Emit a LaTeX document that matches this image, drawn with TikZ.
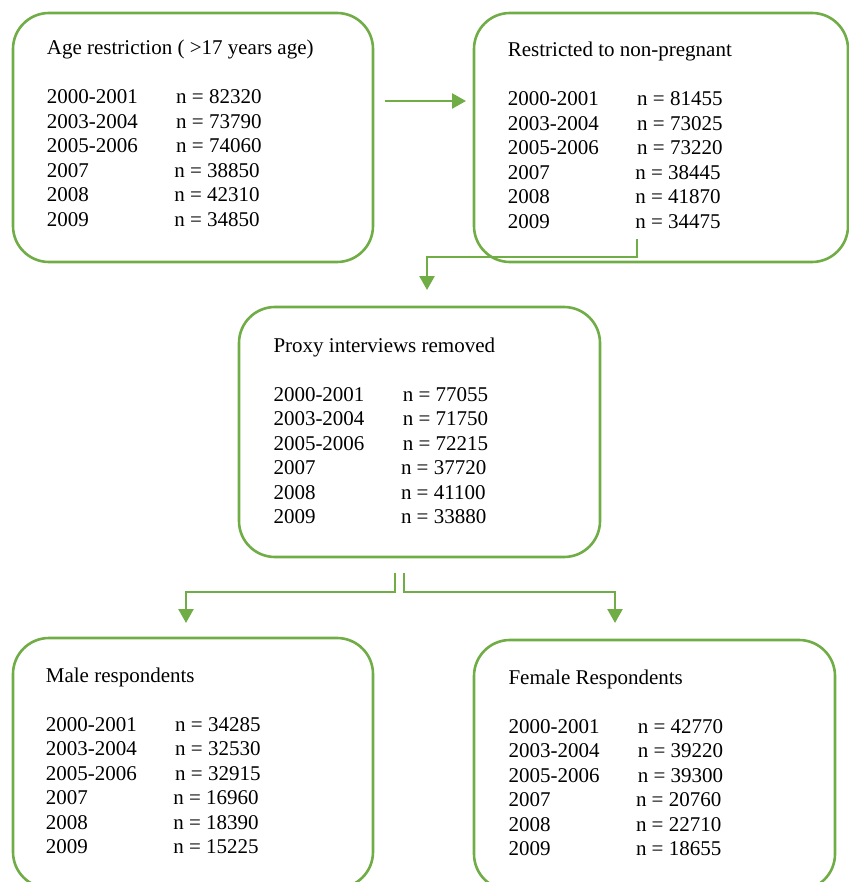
\documentclass[tikz,border=0pt]{standalone}
\usepackage{fontspec}
\setmainfont{Liberation Serif}
\usetikzlibrary{arrows.meta}

\definecolor{leaf}{RGB}{112,173,71}

% one line of a count table: year, then n
\newcommand{\yrow}[3][129.3pt]{\makebox[#1][l]{#2}n = #3}

\begin{document}
\begin{tikzpicture}[
    x=1pt, y=1pt,
    stage/.style={draw=leaf, line width=2.6pt, rounded corners=36pt,
                  inner sep=0pt, outer sep=0pt, anchor=north west},
    counts/.style={anchor=base west, inner sep=0pt,
                   font=\fontsize{21}{24.5}\selectfont},
    flow/.style={draw=leaf, line width=2.6pt,
                 -{Triangle[length=14pt, width=15pt]}}
]
    \useasboundingbox (0,0) rectangle (848,-882);

    \node[stage, minimum width=360pt, minimum height=249pt] (age)    at (13,-13)   {};
    \node[stage, minimum width=374pt, minimum height=249pt] (preg)   at (474,-13)  {};
    \node[stage, minimum width=361pt, minimum height=250pt] (proxy)  at (239,-307) {};
    \node[stage, minimum width=360pt, minimum height=250pt] (male)   at (13,-638)  {};
    \node[stage, minimum width=361pt, minimum height=250pt] (female) at (474,-640)  {};

    \node[counts] (agetxt) at (46.7,-55) {\begin{tabular}[t]{@{}l@{}}
        Age restriction ( >17 years age)\\ \\
        \yrow{2000-2001}{82320}\\
        \yrow{2003-2004}{73790}\\
        \yrow{2005-2006}{74060}\\
        \yrow[127.5pt]{2007}{38850}\\
        \yrow[127.5pt]{2008}{42310}\\
        \yrow[127.5pt]{2009}{34850}
    \end{tabular}};

    \node[counts] (pregtxt) at (507.7,-57) {\begin{tabular}[t]{@{}l@{}}
        Restricted to non-pregnant\\ \\
        \yrow{2000-2001}{81455}\\
        \yrow{2003-2004}{73025}\\
        \yrow{2005-2006}{73220}\\
        \yrow[127.5pt]{2007}{38445}\\
        \yrow[127.5pt]{2008}{41870}\\
        \yrow[127.5pt]{2009}{34475}
    \end{tabular}};

    \node[counts] (proxytxt) at (273.3,-352) {\begin{tabular}[t]{@{}l@{}}
        Proxy interviews removed\\ \\
        \yrow{2000-2001}{77055}\\
        \yrow{2003-2004}{71750}\\
        \yrow{2005-2006}{72215}\\
        \yrow[127.5pt]{2007}{37720}\\
        \yrow[127.5pt]{2008}{41100}\\
        \yrow[127.5pt]{2009}{33880}
    \end{tabular}};

    \node[counts] (maletxt) at (45.7,-682) {\begin{tabular}[t]{@{}l@{}}
        Male respondents\\ \\
        \yrow{2000-2001}{34285}\\
        \yrow{2003-2004}{32530}\\
        \yrow{2005-2006}{32915}\\
        \yrow[127.5pt]{2007}{16960}\\
        \yrow[127.5pt]{2008}{18390}\\
        \yrow[127.5pt]{2009}{15225}
    \end{tabular}};

    \node[counts] (femaletxt) at (508.3,-684) {\begin{tabular}[t]{@{}l@{}}
        Female Respondents\\ \\
        \yrow{2000-2001}{42770}\\
        \yrow{2003-2004}{39220}\\
        \yrow{2005-2006}{39300}\\
        \yrow[127.5pt]{2007}{20760}\\
        \yrow[127.5pt]{2008}{22710}\\
        \yrow[127.5pt]{2009}{18655}
    \end{tabular}};

    % connectors
    \draw[flow, shorten <=12pt, shorten >=8pt]
        ([yshift=36.5pt]age.east) -- ([yshift=36.5pt]preg.west);
    \draw[flow] ([xshift=-24pt,yshift=23pt]preg.south) -- ++(0,-18)
        -| ([xshift=7.5pt,yshift=17pt]proxy.north);
    \draw[flow] ([xshift=-24.5pt,yshift=-16pt]proxy.south) -- ++(0,-19)
        -| ([xshift=-7pt,yshift=15pt]male.north);
    \draw[flow] ([xshift=-15.5pt,yshift=-16pt]proxy.south) -- ++(0,-19)
        -| ([xshift=-39.5pt,yshift=17pt]female.north);
\end{tikzpicture}
\end{document}
